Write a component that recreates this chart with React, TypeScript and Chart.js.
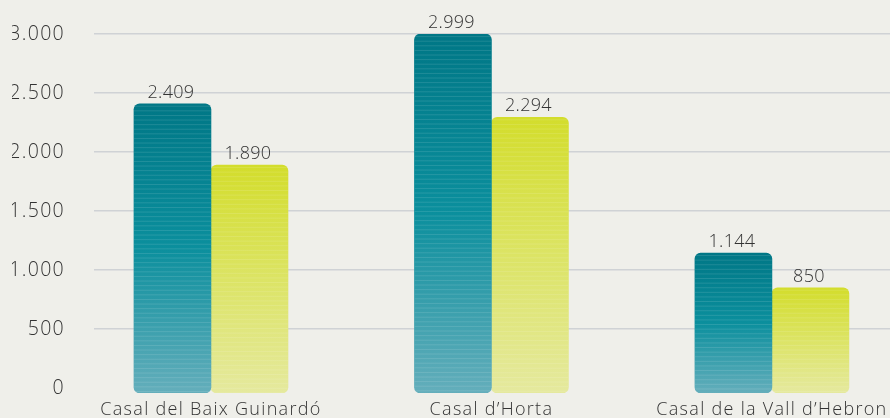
import React, { useEffect, useRef } from 'react';
import { Chart, registerables } from 'chart.js';
Chart.register(...registerables);

const categories = ['Casal del Baix Guinardó', 'Casal d’Horta', 'Casal de la Vall d’Hebron'];
const series1 = [2409, 2999, 1144];
const series2 = [1890, 2294, 850];
const yTickValues = [0, 500, 1000, 1500, 2000, 2500, 3000];

const BASE = -42;
const FONT = '"Open Sans", "DejaVu Sans", sans-serif';
const TEXT = '#333333';

const fmt = (v: number) => String(v).replace(/\B(?=(\d{3})+(?!\d))/g, '.');

function gradient(stops: string[]) {
  return (ctx: any) => {
    const chart = ctx.chart;
    const { chartArea, scales } = chart;
    if (!chartArea || ctx.type !== 'data' || !scales.y) return stops[0];
    const v = ctx.raw && typeof ctx.raw === 'object' ? ctx.raw.y : ctx.raw;
    const top = scales.y.getPixelForValue(v);
    const bottom = scales.y.getPixelForValue(BASE);
    const g = chart.ctx.createLinearGradient(0, top, 0, bottom);
    stops.forEach((c, i) => g.addColorStop(i / (stops.length - 1), c));
    return g;
  };
}

const spacing = {
  id: 'spacing',
  beforeUpdate(chart: any) {
    (chart.ctx as any).letterSpacing = '1.3px';
  },
  beforeLayout(chart: any) {
    (chart.ctx as any).letterSpacing = '1.3px';
  },
  beforeDraw(chart: any) {
    (chart.ctx as any).letterSpacing = '1.3px';
  },
};

const barDecor = {
  id: 'barDecor',
  afterDatasetsDraw(chart: any) {
    const ctx = chart.ctx;
    chart.data.datasets.forEach((ds: any, di: number) => {
      const meta = chart.getDatasetMeta(di);
      meta.data.forEach((bar: any, i: number) => {
        const { x, y, base, width } = bar.getProps(['x', 'y', 'base', 'width'], true);
        ctx.save();
        ctx.beginPath();
        (ctx as any).roundRect(x - width / 2, y, width, base - y, 6);
        ctx.clip();
        ctx.strokeStyle = 'rgba(255,255,255,0.12)';
        ctx.lineWidth = 1;
        for (let yy = y + 2.5; yy < base; yy += 4.6) {
          ctx.beginPath();
          ctx.moveTo(x - width / 2, yy);
          ctx.lineTo(x + width / 2, yy);
          ctx.stroke();
        }
        ctx.restore();
        const val = ds.data[i].y;
        ctx.save();
        (ctx as any).letterSpacing = '0.3px';
        ctx.font = `300 18px ${FONT}`;
        ctx.fillStyle = TEXT;
        ctx.textAlign = 'center';
        ctx.textBaseline = 'alphabetic';
        ctx.fillText(fmt(val), x - 1.5, y - 6);
        ctx.restore();
      });
    });
  },
};

export default function App() {
  const ref = useRef<HTMLCanvasElement>(null);
  useEffect(() => {
    if (!ref.current) return;
    const chart = new Chart(ref.current, {
      type: 'bar',
      data: {
        datasets: [
          {
            label: 'A',
            data: series1.map((y, i) => ({ x: i, y })),
            backgroundColor: gradient(['#007786', '#0b8f9d', '#64aebb']),
            base: BASE,
            barThickness: 77,
            borderRadius: 6,
            borderSkipped: false,
          } as any,
          {
            label: 'B',
            data: series2.map((y, i) => ({ x: i, y })),
            backgroundColor: gradient(['#d3dd2c', '#dce465', '#e5e99e']),
            base: BASE,
            barThickness: 77,
            borderRadius: 6,
            borderSkipped: false,
          } as any,
        ],
      },
      options: {
        animation: false,
        responsive: true,
        maintainAspectRatio: false,
        layout: { padding: { left: 12, right: 0, top: 34, bottom: 0 } },
        plugins: { legend: { display: false }, tooltip: { enabled: false } },
        scales: {
          x: {
            type: 'linear',
            offset: false,
            min: -0.417,
            max: 2.421,
            afterBuildTicks: (axis: any) => {
              axis.ticks = categories.map((_, i) => ({ value: i }));
            },
            afterFit: (axis: any) => {
              axis.height = 25;
              axis.paddingLeft = 0;
              axis.paddingRight = 0;
              axis.paddingTop = 0;
              axis.paddingBottom = 0;
            },
            grid: { display: false, drawTicks: false, offset: false },
            border: { display: false },
            ticks: {
              padding: 6,
              color: TEXT,
              font: { family: FONT, size: 18, weight: '300' },
              maxRotation: 0,
              autoSkip: false,
              callback: (v: any) => categories[v] ?? '',
            },
          },
          y: {
            min: BASE,
            max: 3000,
            afterBuildTicks: (axis: any) => {
              axis.ticks = yTickValues.map((v) => ({ value: v }));
            },
            afterFit: (axis: any) => {
              axis.width = 82;
              axis.paddingTop = 0;
              axis.paddingBottom = 0;
              axis.paddingLeft = 0;
              axis.paddingRight = 0;
            },
            grid: {
              drawTicks: false,
              color: (c: any) => (c.tick && c.tick.value === 0 ? 'rgba(0,0,0,0)' : '#cfd2d5'),
              lineWidth: 1.5,
            },
            border: { display: false },
            ticks: {
              padding: 29,
              color: TEXT,
              font: { family: FONT, size: 19.5, weight: '300' },
              callback: (v: any) => fmt(Number(v)),
            },
          },
        },
      },
      plugins: [spacing, barDecor],
    });
    return () => chart.destroy();
  }, []);
  return (
    <div style={{ position: 'fixed', left: 0, top: 0, width: 890, height: 418, background: '#efefea' }}>
      <canvas ref={ref} />
    </div>
  );
}
